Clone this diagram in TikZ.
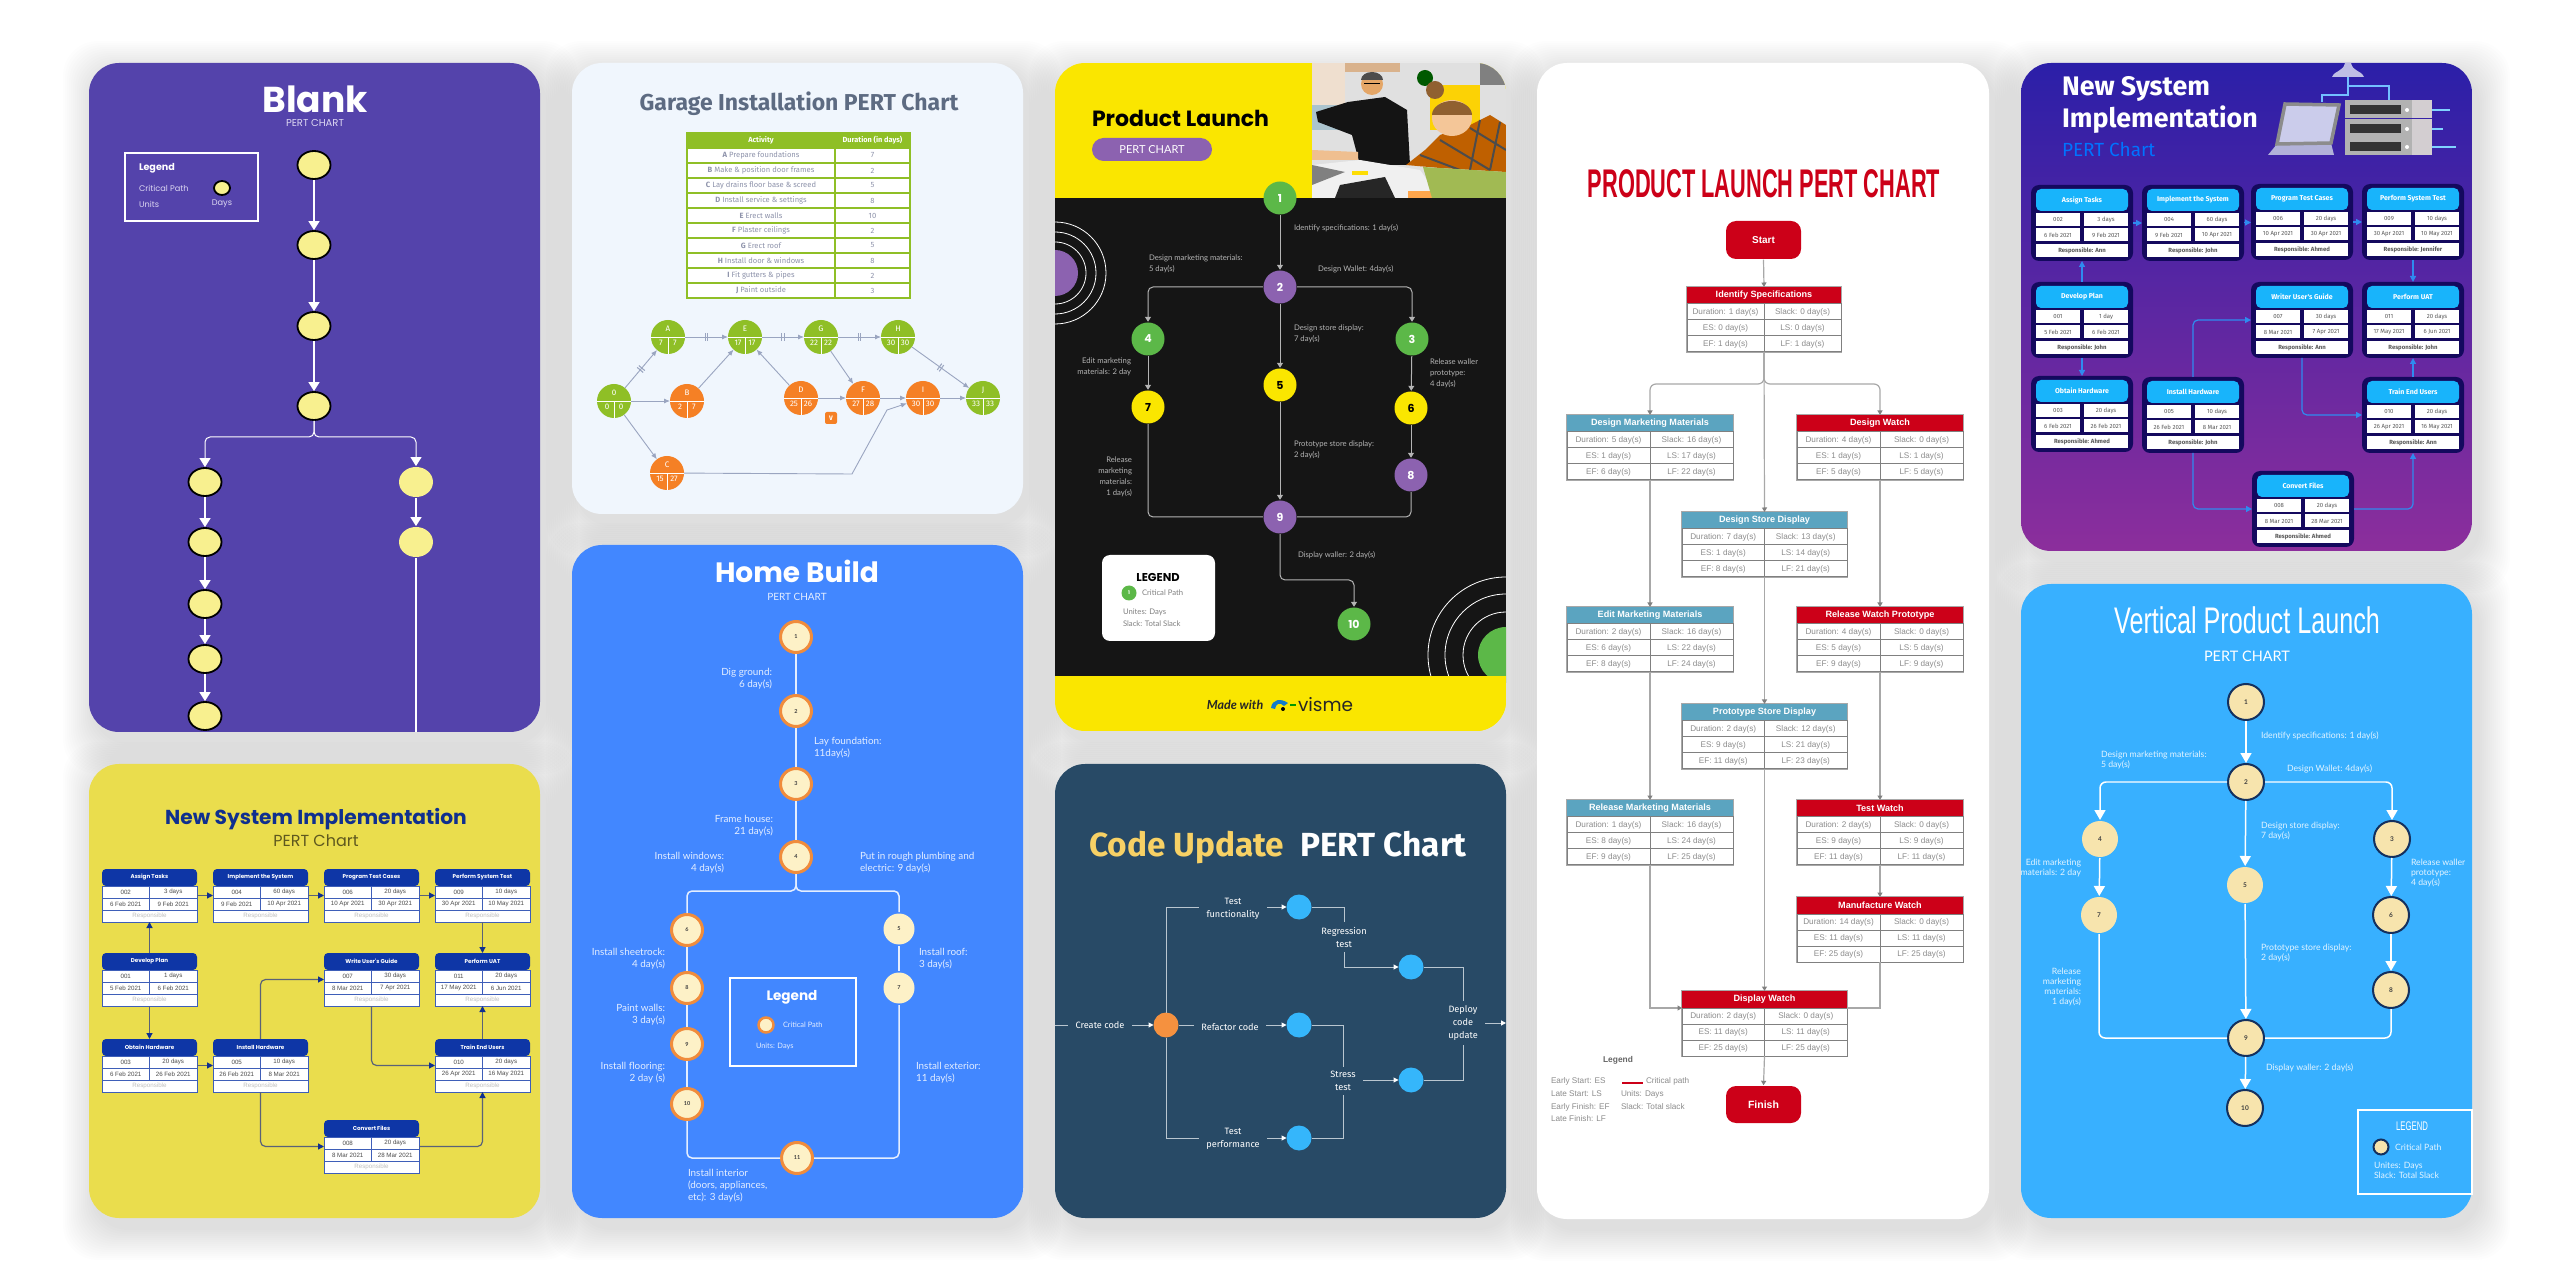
\documentclass[tikz,border=0pt]{standalone}
\usepackage{fontspec}
\setmainfont{Lato}
\newfontfamily\fpop{Poppins}
\newfontfamily\flato{Lato}
\newfontfamily\ffira{Fira Sans}
\newfontfamily\fhelv{Liberation Sans}
\usetikzlibrary{arrows.meta,calc,shapes.geometric}
\newcommand\fpx[2]{\pgfmathsetlengthmacro\fa{#1*0.2845pt}\pgfmathsetlengthmacro\fb{#2*0.2845pt}\fontsize{\fa}{\fb}\selectfont}
\newcommand\gtick{\rule{.3pt}{2.2pt}\hspace{.4pt}\rule{.3pt}{2.2pt}}
\definecolor{blankbg}{HTML}{5443AB}
\definecolor{blankfl}{HTML}{F8F08F}
\definecolor{blanktx}{HTML}{DDD8F2}
\definecolor{garbg}{HTML}{F0F6FD}
\definecolor{gartl}{HTML}{5D6B82}
\definecolor{garG}{HTML}{8FBF26}
\definecolor{garO}{HTML}{F58025}
\definecolor{garln}{HTML}{9AA5C0}
\definecolor{gartx}{HTML}{8E93AB}
\definecolor{lnY}{HTML}{FAE600}
\definecolor{lnK}{HTML}{151515}
\definecolor{lnP}{HTML}{8C62B0}
\definecolor{lnG}{HTML}{5CB848}
\definecolor{lntx}{HTML}{B4B4B4}
\definecolor{plR}{HTML}{CC0018}
\definecolor{plB}{HTML}{5BA4C0}
\definecolor{plln}{HTML}{A8A8A8}
\definecolor{pltx}{HTML}{8C8C8C}
\definecolor{ptC}{HTML}{18B4FB}
\definecolor{ptN}{HTML}{14095E}
\definecolor{ptA}{HTML}{2F8BEF}
\definecolor{ptT}{HTML}{2B1FA8}
\definecolor{ptB}{HTML}{8C2E9C}
\definecolor{vtbg}{HTML}{38B0FF}
\definecolor{vtF}{HTML}{F7E4AD}
\definecolor{vtS}{HTML}{14305E}
\definecolor{vttx}{HTML}{E2F4FF}
\definecolor{ysbg}{HTML}{EADD4D}
\definecolor{ysN}{HTML}{0E36A6}
\definecolor{ysT}{HTML}{0F2F8F}
\definecolor{ysL}{HTML}{5A6278}
\definecolor{hmbg}{HTML}{4287FF}
\definecolor{hmO}{HTML}{F08C3C}
\definecolor{hmF}{HTML}{FDF1C7}
\definecolor{hmtx}{HTML}{E4EEFF}
\definecolor{cdbg}{HTML}{284A66}
\definecolor{cdY}{HTML}{F7D165}
\definecolor{cdO}{HTML}{F5913F}
\definecolor{cdB}{HTML}{35B6FB}
\definecolor{cdL}{HTML}{B9C6D0}
\tikzset{
	lft/.style={anchor=west,align=left},
	rgt/.style={anchor=east,align=right},
	txt/.style={inner sep=0,outer sep=0},
	blanknd/.style={ellipse,draw=black,fill=blankfl,line width=.18mm,minimum width=3.3mm,minimum height=2.8mm,inner sep=0},
	blankarw/.style={draw=white,line width=.15mm,-{Triangle[width=1.1mm,length=.9mm]}},
	blanklb/.style={txt,text=blanktx,font=\fpop\fpx{8.2}{10}},
	gartb/.style={draw=garG,fill=white,line width=.12mm,minimum height=1.5mm,inner sep=0,outer sep=0,text=gartx,font=\ffira\fpx{7.6}{9}},
	garnd/.style={circle,minimum size=3.4mm,inner sep=0,outer sep=0},
	gartxt/.style={txt,text=white,font=\ffira\fpx{8}{9}},
	gararw/.style={draw=garln,line width=.09mm,-{Latex[width=.5mm,length=.6mm]}},
	gartk/.style={sloped,txt,draw=none,text=garln},
	lnnd/.style={circle,minimum size=3.3mm,inner sep=0,font=\fpop\bfseries\fpx{11}{13}},
	lnarw/.style={draw=lntx,line width=.1mm,-{Triangle[width=.6mm,length=.5mm]}},
	lnln/.style={draw=lntx,line width=.1mm},
	lnlb/.style={txt,text=lntx,font=\flato\fpx{7.7}{11}},
	wbsframe/.style={draw=plln,minimum height=6.5mm,inner sep=0,outer sep=0},
	wbshd/.style={text=white,minimum height=1.7mm,inner sep=0,outer sep=0,font=\fhelv\bfseries\fpx{9.1}{10}},
	wbscell/.style={draw=gray,fill=white,line width=.1mm,text=pltx,minimum height=1.6mm,inner sep=0,outer sep=0,font=\fhelv\fpx{8.2}{10}},
	plwire/.style={draw=plln,line width=.12mm},
	plarw/.style={plwire,-{Triangle[width=.5mm,length=.45mm,color=gray]}},
	pllb/.style={txt,text=pltx,font=\fhelv\fpx{8.2}{9}},
	ptbox/.style={fill=ptN,rounded corners=.8mm,minimum width=10.2mm,minimum height=7.6mm,inner sep=0,outer sep=0},
	pthead/.style={fill=ptC,rounded corners=.5mm,minimum width=9.2mm,minimum height=2.2mm,inner sep=0,outer sep=0,text=white,font=\ffira\bfseries\fpx{7}{9}},
	ptcell/.style={fill=white,minimum width=4.4mm,minimum height=1.3mm,inner sep=0,outer sep=0,text=black!65,font=\ffira\fpx{6}{8}},
	ptarw/.style={draw=ptA,line width=.12mm,rounded corners=.5mm,-{Triangle[width=.6mm,length=.6mm]}},
	vtnd/.style={circle,fill=vtF,line width=.2mm,minimum size=3.6mm,inner sep=0,text=black!75,font=\flato\bfseries\fpx{6.5}{8}},
	vtarw/.style={draw=white,line width=.15mm,-{Triangle[width=1.1mm,length=1mm]}},
	vtln/.style={draw=white,line width=.15mm},
	vtlb/.style={txt,text=vttx,font=\flato\fpx{8.7}{10}},
	ysbox/.style={minimum width=9.5mm,minimum height=5.3mm,inner sep=0,outer sep=0},
	yshead/.style={fill=ysN,rounded corners=.4mm,minimum width=9.5mm,minimum height=1.7mm,inner sep=0,outer sep=0,text=white,font=\fpop\bfseries\fpx{5.6}{8}},
	yscell/.style={draw=ysN!80,fill=white,line width=.07mm,minimum width=4.75mm,minimum height=1.2mm,inner sep=0,outer sep=0,text=black!70,font=\fhelv\fpx{6.2}{8}},
	ysarw/.style={draw=ysL,line width=.12mm,rounded corners=.5mm,-{Triangle[width=.6mm,length=.6mm,color=ysT]}},
	hmnd/.style={circle,fill=hmF,line width=.3mm,minimum size=3.1mm,inner sep=0,text=black!75,font=\flato\bfseries\fpx{5.5}{8}},
	hmln/.style={draw=hmtx,line width=.15mm},
	hmlb/.style={txt,text=hmtx,font=\flato\fpx{9.9}{12}},
	cdnd/.style={circle,minimum size=2.5mm,inner sep=0,outer sep=0},
	cdlb/.style={align=center,inner xsep=.7mm,inner ysep=.4mm,text=white,font=\ffira\fpx{9.2}{13}},
	cdln/.style={draw=cdL,line width=.1mm},
	cdarw/.style={cdln,-{Triangle[width=.5mm,length=.5mm,color=white]}}
}
\begin{document}
\begin{tikzpicture}[x=0.1mm,y=-0.1mm]
	\useasboundingbox (0,0) rectangle (2560,1281);
	\foreach \xa/\ya/\xb/\yb in {89/63/540/732,572/63/1023/514,1055/63/1506/731,1537/63/1989/1219,2021/63/2472/551,2021/584/2472/1218,89/764/540/1218,572/545/1023/1218,1055/764/1506/1218}
		\foreach \s in {2,4,...,32}
			\fill[black,opacity=.0065,rounded corners=3.5mm] ({\xa-\s+6},{\ya-\s+10}) rectangle ({\xb+\s+6},{\yb+\s+10});
	\fill[blankbg,rounded corners=3mm] (89,63) rectangle (540,732);
	\fill[garbg,rounded corners=3mm] (572,63) rectangle (1023,514);
	\fill[white,rounded corners=3mm] (1537,63) rectangle (1989,1219);
	\fill[vtbg,rounded corners=3mm] (2021,584) rectangle (2472,1218);
	\fill[ysbg,rounded corners=3mm] (89,764) rectangle (540,1218);
	\fill[hmbg,rounded corners=3mm] (572,545) rectangle (1023,1218);
	\fill[cdbg,rounded corners=3mm] (1055,764) rectangle (1506,1218);

	\node[txt,text=white,font=\fpop\bfseries\fpx{36}{40}] (blTitle) at (315,99) {Blank};
	\node[blanklb,font=\fpop\fpx{10}{12}] (blSub) at (315,123) {PERT CHART};
	\draw[white,line width=.15mm] (125,153) rectangle (258,221);
	\node[blanklb,lft,text=white,font=\fpop\bfseries\fpx{9.6}{11}] (blLeg) at (139,168) {Legend};
	\node[blanklb,lft] (blCp) at (139,188) {Critical Path};
	\node[blanklb,lft] (blUn) at (139,204) {Units};
	\node[blanklb] (blDy) at (222,204) {Days};
	\node[blanknd,minimum width=1.6mm,minimum height=1.4mm] (blKey) at (222,188) {};
	\foreach \nm/\xa/\ya in {bl1/314/165,bl2/314/245,bl3/314/326,bl4/314/406,bl5/205/482,bl6/205/542,bl7/205/604,bl8/205/659,bl9/205/716}
		\node[blanknd] (\nm) at (\xa,\ya) {};
	\foreach \nm/\ya in {bl10/482,bl11/542}
		\node[blanknd,draw=none,minimum width=3.4mm,minimum height=3mm] (\nm) at (416,\ya) {};
	\foreach \ua/\ub in {bl1/bl2,bl2/bl3,bl3/bl4,bl5/bl6,bl6/bl7,bl7/bl8,bl8/bl9,bl10/bl11}
		\draw[blankarw] (\ua) -- (\ub);
	\coordinate (blJ) at (314,437);
	\coordinate (blEnd) at (416,732);
	\draw[blankarw,line width=.1mm,rounded corners=.5mm] (bl4) -- (blJ) -| (bl5);
	\draw[blankarw,line width=.1mm,rounded corners=.5mm] (bl4) -- (blJ) -| (bl10);
	\draw[white,line width=.15mm] (bl11) -- (blEnd);

	\node[txt,text=gartl,font=\ffira\bfseries\fpx{23}{26}] (gaTitle) at (799,104) {Garage Installation PERT Chart};
	\node[gartb,fill=garG,text=white,font=\ffira\bfseries\fpx{7.4}{9},minimum width=14.8mm,anchor=north west] (gaH1) at (687,133) {Activity};
	\node[gartb,fill=garG,text=white,font=\ffira\bfseries\fpx{7.4}{9},minimum width=7.5mm,anchor=north west] (gaH2) at (835,133) {Duration (in days)};
	\foreach \lt/\tx/\qa [count=\i] in {A/Prepare foundations/7,B/Make \& position door frames/2,C/Lay drains floor base \& screed/5,D/Install service \& settings/8,E/Erect walls/10,F/Plaster ceilings/2,G/Erect roof/5,H/Install door \& windows/8,I/Fit gutters \& pipes/2,J/Paint outside/3}{
		\node[gartb,minimum width=14.8mm,anchor=north west] (gaR\i) at (687,{148+15*(\i-1)}) {\textbf{\lt} \tx};
		\node[gartb,minimum width=7.5mm,anchor=north west] (gaD\i) at (835,{148+15*(\i-1)}) {\qa};
	}
	\foreach \nm/\xa/\ya/\lt/\qa/\qb/\col in {g0/614/401/0/0/0/garG,gA/668/337/A/7/7/garG,gE/745/337/E/17/17/garG,gG/821/337/G/22/22/garG,gH/898/337/H/30/30/garG,gJ/983/398/J/33/33/garG,gB/687/401/B/2/7/garO,gD/801/398/D/25/26/garO,gF/863/398/F/27/28/garO,gI/923/398/I/30/30/garO,gC/667/473/C/15/27/garO}{
		\node[garnd,fill=\col] (\nm) at (\xa,\ya) {};
		\draw[white,line width=.08mm] (\nm.west) -- (\nm.east) (\nm.center) -- (\nm.south);
		\node[gartxt] (\nm-l) at ($(\nm)+(0,-8)$) {\lt};
		\node[gartxt] (\nm-a) at ($(\nm)+(-7,6)$) {\qa};
		\node[gartxt] (\nm-b) at ($(\nm)+(7,6)$) {\qb};
	}
	\node[fill=garO,rounded corners=.2mm,minimum size=1.2mm,inner sep=0,text=white,font=\ffira\bfseries\fpx{6.5}{8}] (gV) at (831,418) {V};
	\foreach \ua/\ub in {g0/gA,gA/gE,gE/gG,gG/gH,gH/gJ}
		\draw[gararw] (\ua) -- node[gartk] (tk\ua) {\gtick} (\ub);
	\foreach \ua/\ub in {g0/gB,gB/gE,gD/gE,gD/gF,gG/gF,gF/gI,gI/gJ,g0/gC}
		\draw[gararw] (\ua) -- (\ub);
	\coordinate (gCa) at (852,474);
	\coordinate (gCb) at (887,410);
	\draw[gararw] (gC) -- (gCa) -- (gCb) -- (gI);

	\begin{scope}
		\clip[rounded corners=3mm] (1055,63) rectangle (1506,731);
		\fill[lnY] (1055,63) rectangle (1506,731);
		\fill[lnK] (1055,198) rectangle (1506,676);
		\fill[lnP] (1055,273) circle (23);
		\foreach \s in {31,41,51} \draw[white,line width=.08mm] (1055,273) circle (\s);
		\fill[lnG] (1506,655) circle (28);
		\foreach \s in {43,61,78} \draw[white,line width=.08mm] (1506,655) circle (\s);
		\fill[lnY] (1400,676) rectangle (1506,731);
		\fill[black!12] (1312,63) rectangle (1506,198);
		\fill[brown!25] (1312,63) rectangle (1345,120);
		\fill[brown!60] (1345,63) rectangle (1400,72);
		\fill[yellow!70!orange] (1430,85) rectangle (1480,130);
		\fill[black!50] (1480,63) rectangle (1506,85);
		\fill[green!35!black] (1425,78) circle (8);
		\fill[cyan!30!gray!60] (1312,105) rectangle (1340,130);
		\fill[black!92] (1348,102) -- (1385,97) -- (1407,110) -- (1410,165) -- (1360,165) -- (1352,135) -- (1318,122) -- (1316,112) -- cycle;
		\fill[brown!60!orange!70] (1372,84) circle (11);
		\fill[black!70] (1361,80) arc (180:360:11 and 8) -- cycle;
		\draw[black,line width=.1mm] (1364,84) -- (1380,84);
		\fill[brown!50!orange!50] (1312,150) -- (1358,152) -- (1358,160) -- (1312,160) -- cycle;
		\fill[black!6] (1312,165) -- (1360,160) -- (1420,170) -- (1440,198) -- (1312,198) -- cycle;
		\fill[black!50] (1312,165) -- (1345,172) -- (1312,185) -- cycle;
		\fill[black!85] (1340,185) -- (1385,177) -- (1395,198) -- (1335,198) -- cycle;
		\fill[yellow!80!orange] (1352,171) rectangle (1368,175);
		\fill[orange!70] (1408,191) rectangle (1432,198);
		\fill[orange!75!black] (1406,165) -- (1425,150) -- (1440,135) -- (1470,125) -- (1490,115) -- (1506,125) -- (1506,172) -- (1440,168) -- cycle;
		\draw[black!70,line width=.2mm] (1420,155) -- (1460,170) (1440,140) -- (1490,170) (1470,128) -- (1506,150) (1480,120) -- (1470,170) (1500,122) -- (1490,170);
		\fill[brown!40!orange!45] (1452,118) ellipse (20 and 18);
		\fill[brown!75!black] (1432,115) arc (180:360:20 and 14) -- cycle;
		\fill[brown!75!black] (1435,90) circle (9);
		\fill[yellow!65!green!75!black!85] (1423,167) -- (1506,172) -- (1506,198) -- (1432,198) -- cycle;
	\end{scope}
	\node[txt,lft,font=\fpop\bfseries\fpx{22}{24}] (lnTitle) at (1092,118) {Product Launch};
	\node[fill=lnP,rounded corners=1.15mm,minimum width=12mm,minimum height=2.3mm,inner sep=0,text=white,font=\flato\fpx{11}{13}] (lnPill) at (1152,149.5) {PERT CHART};
	\foreach \nm/\xa/\ya/\col/\qa/\tx in {ln1/1280/198/lnG/white/1,ln2/1280/287/lnP/white/2,ln4/1148/339/lnG/white/4,ln3/1412/339/lnG/white/3,ln7/1148/407/lnY/black/7,ln5/1280/385/lnY/black/5,ln6/1411/408/lnY/black/6,ln8/1411/475/lnP/white/8,ln9/1280/517/lnP/white/9,ln10/1354/624/lnG/white/10}
		\node[lnnd,fill=\col,text=\qa] (\nm) at (\xa,\ya) {\tx};
	\foreach \ua/\ub in {ln1/ln2,ln2/ln5,ln4/ln7,ln3/ln6,ln6/ln8,ln5/ln9}
		\draw[lnarw] (\ua) -- (\ub);
	\draw[lnarw,rounded corners=.5mm] (ln2) -| (ln4);
	\draw[lnarw,rounded corners=.5mm] (ln2) -| (ln3);
	\draw[lnln,rounded corners=.5mm] (ln7) |- (ln9);
	\draw[lnln,rounded corners=.5mm] (ln8) |- (ln9);
	\coordinate (lnJ) at (1280,580);
	\draw[lnarw,rounded corners=.5mm] (ln9) -- (lnJ) -| (ln10);
	\foreach \nm/\xa/\ya/\an/\tx in {lb1/1294/228/lft/{Identify specifications: 1 day(s)},lb2/1149/264/lft/{Design marketing materials:\\5 day(s)},lb3/1318/269/lft/{Design Wallet: 4day(s)},lb4/1294/334/lft/{Design store display:\\7 day(s)},lb5/1131/367/rgt/{Edit marketing\\materials: 2 day},lb6/1430/373/lft/{Release waller\\prototype:\\4 day(s)},lb7/1294/450/lft/{Prototype store display:\\2 day(s)},lb8/1132/477/rgt/{Release\\marketing\\materials:\\1 day(s)},lb9/1298/555/lft/{Display waller: 2 day(s)}}
		\node[lnlb,\an] (\nm) at (\xa,\ya) {\tx};
	\fill[white,rounded corners=.8mm] (1102,555) rectangle (1215,641);
	\node[txt,font=\fpop\bfseries\fpx{11.4}{13}] (lnLeg) at (1158,577) {LEGEND};
	\node[lnnd,fill=lnG,text=white,minimum size=1.5mm,font=\fpop\bfseries\fpx{5}{6}] (lnKey) at (1129,593) {1};
	\node[lnlb,lft,text=black!50] (lnCp) at (1142,593) {Critical Path};
	\node[lnlb,lft,text=black!50] (lnUn) at (1123,612) {Unites: Days};
	\node[lnlb,lft,text=black!50] (lnSl) at (1123,624) {Slack: Total Slack};
	\node[txt,font=\rmfamily\itshape\bfseries\fpx{12.5}{14},text=black!85] (lnMade) at (1235,705) {Made with};
	\fill[cyan!60!blue] (1271,708) .. controls (1272,699) and (1281,698) .. (1288,703) -- (1284,706) .. controls (1280,702) and (1276,703) .. (1275,709) -- cycle;
	\fill[black] (1283,709) circle (2);
	\fill[green!60!black] (1290,704) rectangle (1296,706);
	\node[txt,lft,font=\fpop\fpx{18.5}{20},text=black!85] (lnVis) at (1298,705) {visme};

	\node[txt,text=plR,font=\fhelv\bfseries\fpx{40}{44}] (plTitle) at (1764,184) {\scalebox{.545}[1]{PRODUCT LAUNCH PERT CHART}};
	\node[fill=plR,rounded corners=1mm,minimum width=7.5mm,minimum height=3.8mm,inner sep=0,text=white,font=\fhelv\bfseries\fpx{10}{12}] (plStart) at (1763.5,240) {Start};
	\node[fill=plR,rounded corners=1mm,minimum width=7.5mm,minimum height=3.7mm,inner sep=0,text=white,font=\fhelv\bfseries\fpx{10.5}{12}] (plFin) at (1763.5,1104.5) {Finish};
	\foreach \nm/\xa/\ya/\wa/\col/\hd/\qa/\qb/\qc/\qd/\qe/\qf in {plIS/1687/287/154/plR/Identify Specifications/1/0/0/0/1/1,plDM/1567/415/166/plB/Design Marketing Materials/5/16/1/17/6/22,plDW/1797/415/166/plR/Design Watch/4/0/1/1/5/5,plDS/1682/512/165/plB/Design Store Display/7/13/1/14/8/21,plEM/1567/607/166/plB/Edit Marketing Materials/2/16/6/22/8/24,plRW/1797/607/166/plR/Release Watch Prototype/4/0/5/5/9/9,plPS/1682/704/165/plB/Prototype Store Display/2/12/9/21/11/23,plRM/1567/800/166/plB/Release Marketing Materials/1/16/8/24/9/25,plTW/1797/800/166/plR/Test Watch/2/0/9/9/11/11,plMW/1797/897/166/plR/Manufacture Watch/14/0/11/11/25/25,plDP/1682/991/165/plR/Display Watch/2/0/11/11/25/25}{
		\node[wbsframe,minimum width=\wa*0.1mm,anchor=north west] (\nm) at (\xa,\ya) {};
		\node[wbshd,fill=\col,minimum width=\wa*0.1mm,anchor=north west] (\nm-h) at (\nm.north west) {\hd};
		\node[wbscell,minimum width=\wa*0.05mm,anchor=north east] (\nm-a) at (\nm-h.south) {Duration: \qa\ day(s)};
		\node[wbscell,minimum width=\wa*0.05mm,anchor=north west] (\nm-b) at (\nm-h.south) {Slack: \qb\ day(s)};
		\node[wbscell,minimum width=\wa*0.05mm,anchor=north] (\nm-c) at (\nm-a.south) {ES: \qc\ day(s)};
		\node[wbscell,minimum width=\wa*0.05mm,anchor=north] (\nm-d) at (\nm-b.south) {LS: \qd\ day(s)};
		\node[wbscell,minimum width=\wa*0.05mm,anchor=north] (\nm-e) at (\nm-c.south) {EF: \qe\ day(s)};
		\node[wbscell,minimum width=\wa*0.05mm,anchor=north] (\nm-f) at (\nm-d.south) {LF: \qf\ day(s)};
	}
	\foreach \ua/\ub in {plStart/plIS,plIS/plDS,plDM/plEM,plDW/plRW,plDS/plPS,plEM/plRM,plRW/plTW,plTW/plMW,plPS/plDP,plDP/plFin}
		\draw[plarw] (\ua.south) -- (\ub.north);
	\coordinate (plJ) at (1764,384);
	\draw[plarw,rounded corners=.6mm] (plIS.south) -- (plJ) -| (plDM.north);
	\draw[plarw,rounded corners=.6mm] (plIS.south) -- (plJ) -| (plDW.north);
	\draw[plarw] (plRM.south) |- (plDP-h.south west);
	\draw[plwire] (plMW.south) |- (plDP-h.south east);
	\node[pllb,text=black!60,font=\fhelv\bfseries\fpx{8.4}{10}] (plLeg) at (1618,1060) {Legend};
	\foreach \nm/\xa/\ya/\tx in {plk1/1551/1081/{Early Start: ES},plk2/1551/1094/{Late Start: LS},plk3/1551/1107/{Early Finish: EF},plk4/1551/1119/{Late Finish: LF},plk5/1646/1081/{Critical path},plk6/1621/1094/{Units: Days},plk7/1621/1107/{Slack: Total slack}}
		\node[pllb,lft] (\nm) at (\xa,\ya) {\tx};
	\coordinate (plKa) at (1622,1083);
	\coordinate (plKb) at (1643,1083);
	\draw[plR,line width=.22mm] (plKa) -- (plKb);

	\begin{scope}
		\clip[rounded corners=3mm] (2021,63) rectangle (2472,551);
		\shade[top color=ptT,bottom color=ptB] (2021,63) rectangle (2472,551);
		\fill[cyan!20!blue!25] (2332,77) .. controls (2335,70) and (2343,72) .. (2345,63) -- (2351,63) .. controls (2353,72) and (2361,70) .. (2364,77) -- cycle;
		\draw[blue!45!cyan!55,line width=.25mm] (2348,77) -- (2348,95) -- (2322,95) -- (2322,102) (2348,86) -- (2389,86) -- (2389,100);
		\fill[black!50!blue!30] (2268,155) -- (2277,144) -- (2331,143) -- (2334,155) -- cycle;
		\filldraw[fill=cyan!25!blue!20,draw=black!45,line width=.35mm] (2285,104) -- (2339,105) -- (2331,143) -- (2277,144) -- cycle;
		\foreach \ya/\xb in {100/2450,119/2443,137/2456}{
			\fill[black!30] (2345,\ya) rectangle (2412,{\ya+18});
			\fill[magenta!10!black!22] (2412,\ya) rectangle (2432,{\ya+18});
			\fill[black!80] (2350,{\ya+5}) rectangle (2401,{\ya+14});
			\fill[white] (2407,{\ya+10}) circle (2);
			\draw[blue!35!cyan!50,line width=.25mm] (2432,{\ya+10}) -- (\xb,{\ya+10});
		}
	\end{scope}
	\node[txt,lft,text=white,font=\ffira\bfseries\fpx{26.8}{32}] (ptTitle) at (2062,105) {New System\\Implementation};
	\node[txt,lft,text=blue!55!cyan,font=\ffira\fpx{19}{22}] (ptSub) at (2062,150) {PERT Chart};
	\foreach \nm/\xa/\ya/\hd/\qa/\qb/\qc/\qd/\qe in {ptA/2031/185/Assign Tasks/002/3 days/6 Feb 2021/9 Feb 2021/Ann,ptB/2142/185/Implement the System/004/60 days/9 Feb 2021/10 Apr 2021/John,ptC/2251/184/Program Test Cases/006/20 days/10 Apr 2021/30 Apr 2021/Ahmed,ptD/2362/184/Perform System Test/009/10 days/30 Apr 2021/10 May 2021/Jennifer,ptE/2031/282/Develop Plan/001/1 day/5 Feb 2021/6 Feb 2021/John,ptF/2251/282/Writer User's Guide/007/30 days/8 Mar 2021/7 Apr 2021/Ann,ptG/2362/282/Perform UAT/011/20 days/17 May 2021/6 Jun 2021/John,ptH/2031/376/Obtain Hardware/003/20 days/6 Feb 2021/26 Feb 2021/Ahmed,ptI/2142/377/Install Hardware/005/10 days/26 Feb 2021/8 Mar 2021/John,ptJ/2362/377/Train End Users/010/20 days/26 Apr 2021/16 May 2021/Ann,ptK/2252/471/Convert Files/008/20 days/8 Mar 2021/28 Mar 2021/Ahmed}{
		\node[ptbox,anchor=north west] (\nm) at (\xa,\ya) {};
		\node[pthead,anchor=north] (\nm-h) at ($(\nm.north)+(0,4)$) {\hd};
		\node[ptcell,anchor=north east] (\nm-a) at ($(\nm-h.south)+(-2,2)$) {\qa};
		\node[ptcell,anchor=north west] (\nm-b) at ($(\nm-h.south)+(2,2)$) {\qb};
		\node[ptcell,anchor=north] (\nm-c) at ($(\nm-a.south)+(0,2.5)$) {\qc};
		\node[ptcell,anchor=north] (\nm-d) at ($(\nm-b.south)+(0,2.5)$) {\qd};
		\node[ptcell,anchor=north,minimum width=9.2mm,font=\ffira\bfseries\fpx{6}{8}] (\nm-e) at ($(\nm-h.south)+(0,33)$) {Responsible: \qe};
	}
	\foreach \ua/\ub in {ptA/ptB,ptB/ptC,ptC/ptD,ptE/ptA,ptD/ptG,ptE/ptH,ptJ/ptG}
		\draw[ptarw] (\ua) -- (\ub);
	\draw[ptarw] (ptI.north) |- (ptF.west);
	\draw[ptarw] (ptF.south) |- (ptJ.west);
	\draw[ptarw] (ptI.south) |- (ptK.west);
	\draw[ptarw] (ptK.east) -| (ptJ.south);

	\node[txt,text=white,font=\fhelv\fpx{37}{40}] (vtTitle) at (2247,620) {\scalebox{.68}[1]{Vertical Product Launch}};
	\node[txt,text=white,font=\flato\fpx{14.5}{16}] (vtSub) at (2247,656) {PERT CHART};
	\foreach \nm/\xa/\ya/\col/\tx in {vt1/2246/702/vtS/1,vt2/2246/782/vtS/2,vt4/2100/839/none/4,vt3/2392/839/vtS/3,vt5/2245/885/none/5,vt7/2099/915/none/7,vt6/2391/915/vtS/6,vt8/2391/990/vtS/8,vt9/2246/1038/vtS/9,vt10/2245/1108/vtS/10}
		\node[vtnd,draw=\col] (\nm) at (\xa,\ya) {\tx};
	\foreach \ua/\ub in {vt1/vt2,vt2/vt5,vt4/vt7,vt3/vt6,vt6/vt8,vt5/vt9,vt9/vt10}
		\draw[vtarw] (\ua) -- (\ub);
	\draw[vtarw,rounded corners=.6mm] (vt2) -| (vt4);
	\draw[vtarw,rounded corners=.6mm] (vt2) -| (vt3);
	\draw[vtln,rounded corners=.6mm] (vt7) |- (vt9);
	\draw[vtln,rounded corners=.6mm] (vt8) |- (vt9);
	\foreach \nm/\xa/\ya/\an/\tx in {vb1/2261/736/lft/{Identify specifications: 1 day(s)},vb2/2101/760/lft/{Design marketing materials:\\5 day(s)},vb3/2287/769/lft/{Design Wallet: 4day(s)},vb4/2261/831/lft/{Design store display:\\7 day(s)},vb5/2081/868/rgt/{Edit marketing\\materials: 2 day},vb6/2411/873/lft/{Release waller\\prototype:\\4 day(s)},vb7/2261/953/lft/{Prototype store display:\\2 day(s)},vb8/2081/987/rgt/{Release\\marketing\\materials:\\1 day(s)},vb9/2266/1068/lft/{Display waller: 2 day(s)}}
		\node[vtlb,\an] (\nm) at (\xa,\ya) {\tx};
	\draw[white,line width=.15mm] (2358,1110) rectangle (2472,1194);
	\node[txt,text=white,font=\fhelv\fpx{12.5}{14}] (vtLeg) at (2412,1126) {\scalebox{.62}[1]{LEGEND}};
	\node[vtnd,draw=vtS,minimum size=1.5mm] (vtKey) at (2381,1147) {};
	\node[vtlb,lft] (vtCp) at (2395,1147) {Critical Path};
	\node[vtlb,lft] (vtUn) at (2374,1170) {Unites: Days\\Slack: Total Slack};

	\node[txt,text=ysT,font=\fpop\bfseries\fpx{20.2}{24}] (ysTitle) at (316,819) {New System Implementation};
	\node[txt,text=black!60!ysbg,font=\fpop\fpx{16}{18}] (ysSub) at (316,841) {PERT Chart};
	\foreach \nm/\xa/\ya/\hd/\qa/\qb/\qc/\qd in {ysA/102/869/Assign Tasks/002/3 days/6 Feb 2021/9 Feb 2021,ysB/213/869/Implement the System/004/60 days/9 Feb 2021/10 Apr 2021,ysC/324/869/Program Test Cases/006/20 days/10 Apr 2021/30 Apr 2021,ysD/435/869/Perform System Test/009/10 days/30 Apr 2021/10 May 2021,ysE/102/953/Develop Plan/001/1 days/5 Feb 2021/6 Feb 2021,ysF/324/953/Write User's Guide/007/30 days/8 Mar 2021/7 Apr 2021,ysG/435/953/Perform UAT/011/20 days/17 May 2021/6 Jun 2021,ysH/102/1039/Obtain Hardware/003/20 days/6 Feb 2021/26 Feb 2021,ysI/213/1039/Install Hardware/005/10 days/26 Feb 2021/8 Mar 2021,ysJ/435/1039/Train End Users/010/20 days/26 Apr 2021/16 May 2021,ysK/324/1120/Convert Files/008/20 days/8 Mar 2021/28 Mar 2021}{
		\node[ysbox,anchor=north west] (\nm) at (\xa,\ya) {};
		\node[yshead,anchor=north] (\nm-h) at (\nm.north) {\hd};
		\node[yscell,anchor=north east] (\nm-a) at (\nm-h.south) {\qa};
		\node[yscell,anchor=north west] (\nm-b) at (\nm-h.south) {\qb};
		\node[yscell,anchor=north] (\nm-c) at (\nm-a.south) {\qc};
		\node[yscell,anchor=north] (\nm-d) at (\nm-b.south) {\qd};
		\node[yscell,anchor=north,minimum width=9.5mm,minimum height=1.2mm,text=black!25] (\nm-e) at ($(\nm-h.south)+(0,24)$) {Responsible};
	}
	\foreach \ua/\ub in {ysA/ysB,ysB/ysC,ysC/ysD,ysE/ysA,ysD/ysG,ysE/ysH,ysH/ysI,ysJ/ysG}
		\draw[ysarw] (\ua) -- (\ub);
	\draw[ysarw] (ysI.north) |- (ysF.west);
	\draw[ysarw] (ysF.south) |- (ysJ.west);
	\draw[ysarw] (ysI.south) |- (ysK.west);
	\draw[ysarw] (ysK.east) -| (ysJ.south);

	\node[txt,text=white,font=\fpop\bfseries\fpx{28}{32}] (hmTitle) at (797,571) {Home Build};
	\node[txt,text=hmtx,font=\flato\fpx{10}{12}] (hmSub) at (797,597) {PERT CHART};
	\foreach \nm/\xa/\ya/\col/\tx in {hm1/796/637/hmO/1,hm2/796/711/hmO/2,hm3/796/784/hmO/3,hm4/796/857/hmO/4,hm6/687/930/hmO/6,hm8/687/988/hmO/8,hm9/687/1044/hmO/9,hm10/687/1104/hmO/10,hm11/797/1158/hmO/11,hm5/899/929/none/5,hm7/899/988/none/7}
		\node[hmnd,draw=\col] (\nm) at (\xa,\ya) {\tx};
	\foreach \ua/\ub in {hm1/hm2,hm2/hm3,hm3/hm4,hm6/hm8,hm8/hm9,hm9/hm10,hm5/hm7}
		\draw[hmln] (\ua) -- (\ub);
	\coordinate (hmJ) at (796,891);
	\draw[hmln,rounded corners=.5mm] (hm4) -- (hmJ) -| (hm6);
	\draw[hmln,rounded corners=.5mm] (hm4) -- (hmJ) -| (hm5);
	\draw[hmln,rounded corners=.5mm] (hm10) |- (hm11);
	\draw[hmln,rounded corners=.5mm] (hm7) |- (hm11);
	\foreach \nm/\xa/\ya/\an/\tx in {hb1/772/679/rgt/{Dig ground:\\6 day(s)},hb2/814/748/lft/{Lay foundation:\\11day(s)},hb3/773/826/rgt/{Frame house:\\21 day(s)},hb4/724/863/rgt/{Install windows:\\4 day(s)},hb5/860/863/lft/{Put in rough plumbing and\\electric: 9 day(s)},hb6/665/959/rgt/{Install sheetrock:\\4 day(s)},hb7/665/1015/rgt/{Paint walls:\\3 day(s)},hb8/665/1073/rgt/{Install flooring:\\2 day (s)},hb9/919/959/lft/{Install roof:\\3 day(s)},hb10/916/1073/lft/{Install exterior:\\11 day(s)},hb11/688/1186/lft/{Install interior\\(doors, appliances,\\etc): 3 day(s)}}
		\node[hmlb,\an] (\nm) at (\xa,\ya) {\tx};
	\draw[white,line width=.15mm] (730,978) rectangle (856,1066);
	\node[txt,text=white,font=\fpop\bfseries\fpx{13.6}{16}] (hmLeg) at (792,997) {Legend};
	\node[hmnd,draw=hmO,minimum size=1.5mm,line width=.25mm] (hmKey) at (766,1025) {};
	\node[hmlb,lft,font=\flato\fpx{7.4}{9}] (hmCp) at (783,1025) {Critical Path};
	\node[hmlb,lft,font=\flato\fpx{7.4}{9}] (hmUn) at (756,1046) {Units: Days};

	\node[txt,lft,text=white,font=\ffira\bfseries\fpx{33.4}{36}] (cdTitle) at (1089,848) {\textcolor{cdY}{Code Update}\hspace{1.6mm}PERT Chart};
	\foreach \nm/\xa/\ya/\col in {cdA/1166/1025/cdO,cdB1/1299/907/cdB,cdB2/1411/967/cdB,cdB3/1299/1025/cdB,cdB4/1411/1080/cdB,cdB5/1299/1138/cdB}
		\node[cdnd,fill=\col] (\nm) at (\xa,\ya) {};
	\foreach \nm/\xa/\ya/\tx in {cdCr/1100/1025/{Create code},cdTf/1233/909/{Test\\functionality},cdRf/1230/1027/{Refactor code},cdTp/1233/1139/{Test\\performance},cdRg/1344/937/{Regression\\test},cdSt/1343/1081/{Stress\\test},cdDp/1463/1023/{Deploy\\code\\update}}
		\node[cdlb] (\nm) at (\xa,\ya) {\tx};
	\coordinate (cdIn) at (1055,1025);
	\coordinate (cdOut) at (1506,1023);
	\draw[cdln] (cdIn) -- (cdCr);
	\draw[cdarw] (cdCr) -- (cdA);
	\draw[cdln] (cdA) -- (cdA-|cdRf.west);
	\draw[cdarw] (cdRf.east|-cdB3) -- (cdB3);
	\draw[cdln] (cdA) |- (cdTf.west|-cdB1);
	\draw[cdln] (cdA) |- (cdTp.west|-cdB5);
	\draw[cdarw] (cdTf.east|-cdB1) -- (cdB1);
	\draw[cdarw] (cdTp.east|-cdB5) -- (cdB5);
	\draw[cdln] (cdB1) -| (cdRg);
	\draw[cdarw] (cdRg) |- (cdB2);
	\draw[cdln] (cdB3) -| (cdSt);
	\draw[cdln] (cdB5) -| (cdSt);
	\draw[cdarw] (cdSt.east|-cdB4) -- (cdB4);
	\draw[cdln] (cdB2) -| (cdDp);
	\draw[cdln] (cdB4) -| (cdDp);
	\draw[cdarw] (cdDp) -- (cdOut);
\end{tikzpicture}
\end{document}
